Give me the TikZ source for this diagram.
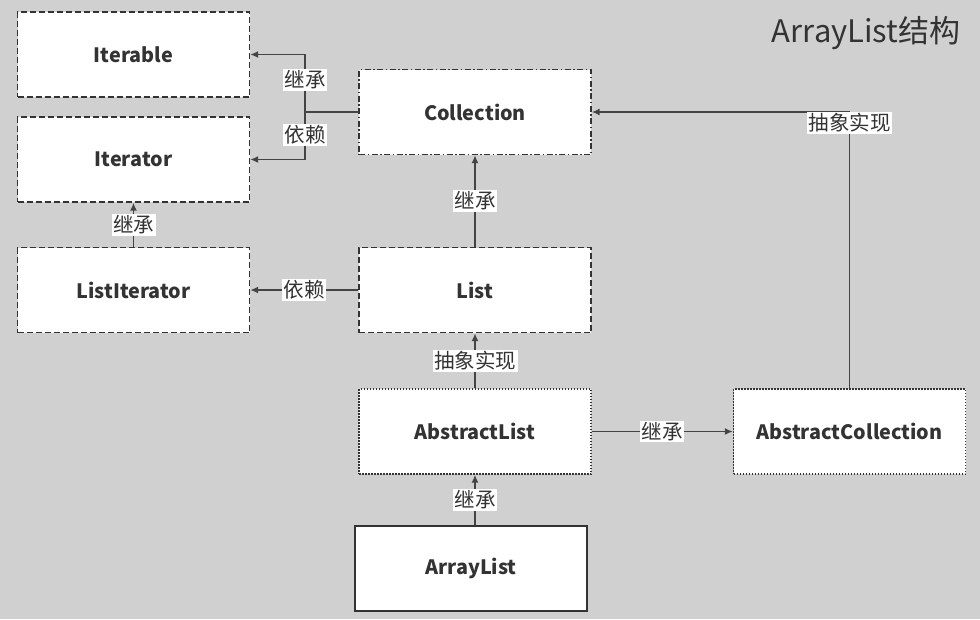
\documentclass[tikz,border=0pt]{standalone}
\usepackage{fontspec}
\setmainfont{Noto Sans CJK SC}
\usetikzlibrary{arrows.meta}
\definecolor{bg}{HTML}{D0D0D0}
\definecolor{ink}{HTML}{333333}
\definecolor{wire}{HTML}{444444}
\tikzset{
  cls/.style={draw=ink, fill=white, line width=1.4pt, text=ink,
    minimum width=232pt, minimum height=85pt,
    font=\fontsize{19.8}{22}\selectfont\bfseries},
  dashbox/.style={dash pattern=on 6pt off 3pt},
  dashdotbox/.style={dash pattern=on 6pt off 2.5pt on 1.5pt off 2.5pt},
  dotbox/.style={dash pattern=on 1.5pt off 1.5pt},
  wireline/.style={draw=wire, line width=1.6pt},
  arrowline/.style={wireline, -{Latex[length=8pt,width=7pt]}},
  tag/.style={fill=white, text=ink, inner sep=1.5pt,
    font=\fontsize{20.5}{23}\selectfont}
}
\begin{document}
\begin{tikzpicture}[x=1pt,y=-1pt]
        \fill[bg] (0,0) rectangle (980,619);
        \node[text=ink, anchor=east, font=\fontsize{31}{36}\selectfont] (title) at (964,33) {ArrayList结构};
        % interfaces
        \node[cls, dashbox] (iterable) at (133.5,54.5) {Iterable};
        \node[cls, dashbox] (iterator) at (133.5,159.5) {Iterator};
        \node[cls, dashbox] (listiter) at (133.5,290) {ListIterator};
        \node[cls, dashdotbox] (collection) at (475,112) {Collection};
        \node[cls, dashbox] (list) at (475,290) {List};
        % classes
        \node[cls, dotbox] (abslist) at (475,431.5) {AbstractList};
        \node[cls, dotbox] (abscoll) at (849.5,431.5) {AbstractCollection};
        \node[cls, solid] (arraylist) at (471,568.5) {ArrayList};
        \coordinate (fork) at (305,112);
        \path[wireline] (collection.west) -- (fork);
        \path[arrowline] (fork) |- node[tag, pos=0.28] {继承} (iterable.east);
        \path[arrowline] (fork) |- node[tag, pos=0.24] {依赖} (iterator.east);
        \path[arrowline] (listiter.north) -- node[tag] {继承} (iterator.south);
        \path[arrowline] (list.west) -- node[tag] {依赖} (listiter.east);
        \path[arrowline] (list.north) -- node[tag] {继承} (collection.south);
        \path[arrowline] (abslist.north) -- node[tag] {抽象实现} (list.south);
        \path[arrowline] (abslist.east) -- node[tag] {继承} (abscoll.west);
        \path[arrowline] (abscoll.north) |- node[tag, pos=0.48] {抽象实现} (collection.east);
        \path[arrowline] (abslist.south |- arraylist.north) -- node[tag] {继承} (abslist.south);
    \end{tikzpicture}
\end{document}
